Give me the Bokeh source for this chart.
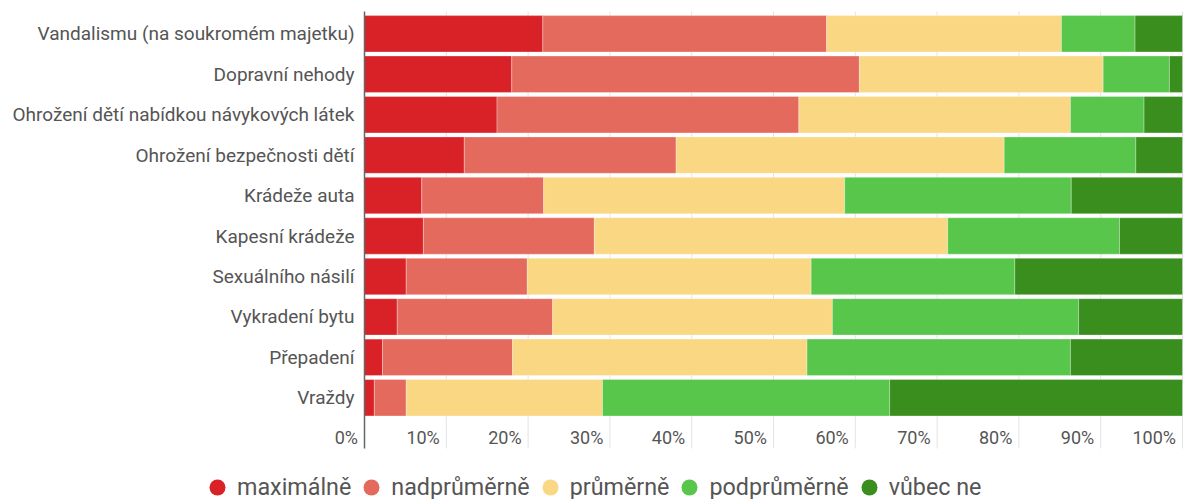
from bokeh.plotting import figure
from bokeh.models import Range1d, Legend, LegendItem, ColumnDataSource
from bokeh.core.properties import value
from bokeh.embed import file_html
from bokeh.resources import INLINE

categories = [
    "Vandalismu (na soukromém majetku)",
    "Dopravní nehody",
    "Ohrožení dětí nabídkou návykových látek",
    "Ohrožení bezpečnosti dětí",
    "Krádeže auta",
    "Kapesní krádeže",
    "Sexuálního násilí",
    "Vykradení bytu",
    "Přepadení",
    "Vraždy",
]
maximalne   = [21.8, 18.0, 16.2, 12.2,  7.0,  7.2,  5.1,  4.0,  2.2,  1.2]
nadprumerne = [34.7, 42.5, 36.9, 25.9, 14.9, 20.9, 14.8, 19.0, 15.9,  3.9]
prumerne    = [28.7, 29.8, 33.2, 40.1, 36.8, 43.2, 34.7, 34.2, 36.0, 24.0]
podprumerne = [ 9.0,  8.1,  9.0, 16.1, 27.7, 21.0, 24.9, 30.1, 32.2, 35.1]
vubec_ne    = [ 5.8,  1.6,  4.7,  5.7, 13.6,  7.7, 20.5, 12.7, 13.7, 35.8]

series_names = ["maximálně", "nadprůměrně", "průměrně", "podprůměrně", "vůbec ne"]
colors = ["#d92128", "#e46a5e", "#f9d783", "#57c64a", "#3a8e1e"]

tick_values = [0, 10, 20, 30, 40, 50, 60, 70, 80, 90, 100]
tick_labels = ["0%", "10%", "20%", "30%", "40%", "50%", "60%", "70%", "80%", "90%", "100%"]

FONT = "Roboto"
TEXT_COLOR = "#555555"

# ---- layout constants (pixels) ----
W, H = 1183, 499
ZERO_X, FULL_X = 364, 1182          # 0 % and 100 % positions
ROW0_Y, PITCH = 33.3, 40.44         # centre of first bar, distance between bars
AXIS_TOP, AXIS_BOTTOM = 11, 448     # extent of axis line and grid lines
TICK_Y = 436.5                      # vertical centre of value labels

kx = (FULL_X - ZERO_X) / 100.0
x_range = Range1d(-ZERO_X / kx, (W - ZERO_X) / kx)
to_row = lambda py: (py - ROW0_Y) / PITCH
y_range = Range1d(to_row(H), to_row(0))   # reversed: first category on top

n = len(categories)
ypos = list(range(n))
keys = ["maximalne", "nadprumerne", "prumerne", "podprumerne", "vubec_ne"]
source = ColumnDataSource(dict(
    y=ypos,
    maximalne=maximalne, nadprumerne=nadprumerne, prumerne=prumerne,
    podprumerne=podprumerne, vubec_ne=vubec_ne,
))

p = figure(width=W, height=H, output_backend="svg", toolbar_location=None,
           x_range=x_range, y_range=y_range,
           x_axis_location=None, y_axis_location=None,
           min_border=0, min_border_left=0, min_border_right=0,
           min_border_top=0, min_border_bottom=0)
p.outline_line_color = None
p.grid.visible = False
p.background_fill_color = "white"
p.border_fill_color = "white"

# vertical grid lines at the value ticks
p.segment(x0=tick_values[1:], x1=tick_values[1:],
          y0=[to_row(AXIS_TOP)] * (len(tick_values) - 1),
          y1=[to_row(AXIS_BOTTOM)] * (len(tick_values) - 1),
          line_color="#e3e3e3", line_width=1)

# stacked bars
p.hbar_stack(keys, y="y", height=0.9, color=colors, source=source,
             line_color="white", line_width=0.5, line_alpha=0.6)

# category axis line
p.segment(x0=[0], x1=[0], y0=[to_row(AXIS_TOP)], y1=[to_row(AXIS_BOTTOM)],
          line_color="#666666", line_width=1.5)

# category labels
p.text(x=[0] * n, y=ypos, text=categories, x_offset=-10,
       text_align="right", text_baseline="middle",
       text_font=value(FONT), text_font_size="19px", text_color=TEXT_COLOR)

# value labels
p.text(x=tick_values, y=[to_row(TICK_Y)] * len(tick_values), text=tick_labels,
       x_offset=-6.5, text_align="right", text_baseline="middle",
       text_font=value(FONT), text_font_size="18px", text_color=TEXT_COLOR)

# legend with circle markers (zero-size markers: only the legend shows them)
items = []
for name, key, c in zip(series_names, keys, colors):
    r = p.scatter(x=key, y="y", source=source, marker="circle", size=0,
                  fill_color=c, line_alpha=0)
    items.append(LegendItem(label=name, renderers=[r]))

legend = Legend(items=items, orientation="horizontal", location=(197, -8),
                glyph_width=40, glyph_height=40, label_standoff=0, spacing=-2,
                padding=0, margin=0, border_line_color=None,
                background_fill_alpha=0,
                label_text_font=FONT, label_text_font_size="23.3px",
                label_text_color=TEXT_COLOR)
p.add_layout(legend)

open("out.html", "w").write(file_html(p, INLINE))
